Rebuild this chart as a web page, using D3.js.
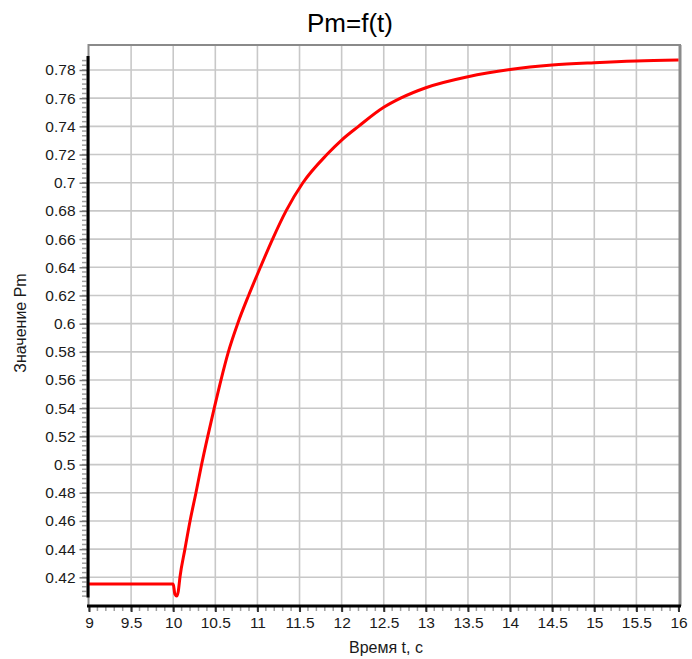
<!DOCTYPE html>
<html><head><meta charset="utf-8">
<script src="https://cdn.jsdelivr.net/npm/d3@7"></script>
<style>body{margin:0;background:#fff}svg{display:block}text{font-family:"Liberation Sans",Arial,sans-serif}</style>
</head><body>
<svg id="c" width="692" height="659"></svg>
<script>
const title = "Pm=f(t)";
const xTitle = "Время t, с";
const yTitle = "Значение Pm";
const timeValues = [9, 10.0, 10.02, 10.04, 10.06, 10.08, 10.139, 10.20, 10.27, 10.337, 10.41, 10.487, 10.567, 10.655, 10.765, 10.895, 11.035, 11.18, 11.34, 11.54, 11.825, 12.0, 12.2, 12.5, 12.7, 13.0, 13.5, 14.0, 14.5, 15.0, 15.5, 16.0];
const pmValues   = [0.4152, 0.4152, 0.408, 0.4067, 0.410, 0.420, 0.44, 0.46, 0.48, 0.50, 0.52, 0.54, 0.56, 0.58, 0.60, 0.62, 0.64, 0.66, 0.68, 0.70, 0.72, 0.7303, 0.74, 0.7535, 0.76, 0.7674, 0.7752, 0.7803, 0.7835, 0.7852, 0.7864, 0.787];
const xTicks = [9, 9.5, 10, 10.5, 11, 11.5, 12, 12.5, 13, 13.5, 14, 14.5, 15, 15.5, 16];
const yTicks = [0.42, 0.44, 0.46, 0.48, 0.5, 0.52, 0.54, 0.56, 0.58, 0.6, 0.62, 0.64, 0.66, 0.68, 0.7, 0.72, 0.74, 0.76, 0.78];

const svg = d3.select("#c");
const L = 88.5, R = 680, T = 45, B = 606;
const x = d3.scaleLinear().domain([9, 16]).range([89, 678.5]);
const y = d3.scaleLinear().domain([0.4, 0.8]).range([605.5, 41.8]);

// gridlines
const g = svg.append("g");
g.selectAll(".vg").data(xTicks.filter(d => d > 9 && d < 16)).enter().append("line")
  .attr("x1", d => x(d)).attr("x2", d => x(d)).attr("y1", T).attr("y2", B)
  .attr("stroke", "#c8c8c8").attr("stroke-width", 1.6);
g.selectAll(".hg").data(yTicks).enter().append("line")
  .attr("x1", L).attr("x2", R).attr("y1", d => y(d)).attr("y2", d => y(d))
  .attr("stroke", "#c8c8c8").attr("stroke-width", 1.6);

// frame top/right/left (gray)
svg.append("path").attr("d", `M${L},${B} L${L},${T} L${R},${T} L${R},${B}`)
  .attr("fill", "none").attr("stroke", "#8a8a8a").attr("stroke-width", 2);
svg.append("line").attr("x1", R).attr("x2", R).attr("y1", T).attr("y2", B)
  .attr("stroke", "#8a8a8a").attr("stroke-width", 3);

// data line
const line = d3.line().x((d, i) => x(timeValues[i])).y(d => y(d)).curve(d3.curveMonotoneX);
svg.append("path").datum(pmValues).attr("d", line)
  .attr("fill", "none").attr("stroke", "#ff0000").attr("stroke-width", 3)
  .attr("stroke-linejoin", "round");

// y axis minor ticks
const yMinor = d3.range(0, 241).map(i => 0.4 + i * 0.02 / 6).filter(v => y(v) >= 57 && y(v) <= 597);
svg.selectAll(".ym").data(yMinor).enter().append("line")
  .attr("x1", 82).attr("x2", 86.5).attr("y1", d => y(d)).attr("y2", d => y(d))
  .attr("stroke", "#a0a0a0").attr("stroke-width", 1.5);
// y axis major ticks
const yAxis = d3.axisLeft(y).tickValues(yTicks).tickFormat(d3.format("~g")).tickSize(8).tickPadding(4);
const ya = svg.append("g").attr("transform", "translate(87.5,0)").call(yAxis);
ya.select(".domain").remove();
ya.selectAll(".tick line").attr("stroke", "#777").attr("stroke-width", 1.5);
ya.selectAll(".tick text").attr("font-size", 15.5).attr("fill", "#1a1a1a").attr("font-family", '"Liberation Sans",Arial,sans-serif');
svg.append("line").attr("x1", 88).attr("x2", 88).attr("y1", 56).attr("y2", 597.5)
  .attr("stroke", "#000").attr("stroke-width", 3);

// x axis minor ticks
const xMinor = d3.range(0, 71).map(i => 9 + i * 0.1);
svg.selectAll(".xm").data(xMinor).enter().append("line")
  .attr("x1", d => x(d)).attr("x2", d => x(d)).attr("y1", 607).attr("y2", 611)
  .attr("stroke", "#a0a0a0").attr("stroke-width", 1.5);
const xAxis = d3.axisBottom(x).tickValues(xTicks).tickFormat(d3.format("~g")).tickSize(6).tickPadding(5);
const xa = svg.append("g").attr("transform", "translate(0,606)").call(xAxis);
xa.select(".domain").remove();
xa.selectAll(".tick line").attr("stroke", "#333").attr("stroke-width", 2);
xa.selectAll(".tick text").attr("font-size", 15.5).attr("fill", "#1a1a1a").attr("font-family", '"Liberation Sans",Arial,sans-serif');
svg.append("line").attr("x1", 87).attr("x2", 681).attr("y1", 606).attr("y2", 606)
  .attr("stroke", "#000").attr("stroke-width", 3);

// titles
svg.append("text").attr("x", 350).attr("y", 32).attr("text-anchor", "middle")
  .attr("font-size", 26).attr("fill", "#000").text(title);
svg.append("text").attr("x", 386).attr("y", 653).attr("text-anchor", "middle")
  .attr("font-size", 16).attr("fill", "#1a1a1a").text(xTitle);
svg.append("text").attr("transform", "translate(26,323) rotate(-90)").attr("text-anchor", "middle")
  .attr("font-size", 16).attr("fill", "#1a1a1a").text(yTitle);
</script>
</body></html>
